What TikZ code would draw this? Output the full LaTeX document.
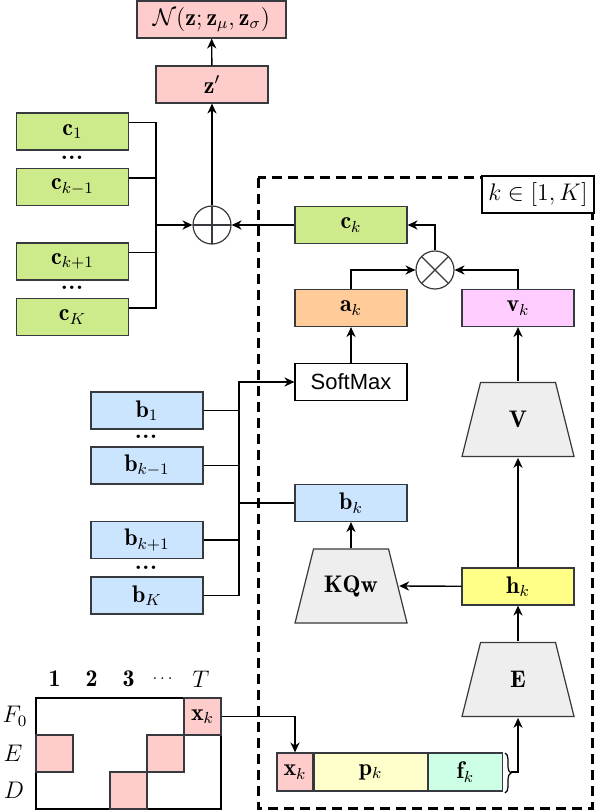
\documentclass[tikz,border=0pt]{standalone}
\usepackage{fontspec}
\newfontfamily\helvfont{Liberation Sans}
\usepackage{amsmath,amssymb}
\usetikzlibrary{arrows.meta,decorations.pathreplacing}
\definecolor{edgegray}{HTML}{36393D}
\definecolor{pinkbox}{HTML}{FFCCCC}
\definecolor{greenbox}{HTML}{CDEB8B}
\definecolor{bluebox}{HTML}{CCE5FF}
\definecolor{orangebox}{HTML}{FFCC99}
\definecolor{violetbox}{HTML}{FFCCFF}
\definecolor{yellowbox}{HTML}{FFFF88}
\definecolor{lightyellow}{HTML}{FFFFCC}
\definecolor{mintbox}{HTML}{CCFFE6}
\definecolor{trapgray}{HTML}{EEEEEE}

\begin{document}
\begin{tikzpicture}[x=0.5pt,y=-0.5pt,
  font=\fontsize{12}{14}\selectfont,
  >={Stealth[length=5pt,width=4.6pt]},
  conn/.style={line width=0.7pt},
  block/.style={draw=edgegray,line width=0.6pt,minimum width=56pt,minimum height=18.5pt,inner sep=0pt},
  trap/.style={minimum width=57pt,minimum height=38pt,inner sep=0pt,
    path picture={\filldraw[fill=trapgray,draw=edgegray,line width=0.6pt]
      ([shift={(0.5pt,0.5pt)}]path picture bounding box.south west) --
      ([shift={(-0.5pt,0.5pt)}]path picture bounding box.south east) --
      ([shift={(-9.75pt,-0.5pt)}]path picture bounding box.north east) --
      ([shift={(9.75pt,-0.5pt)}]path picture bounding box.north west) -- cycle;}},
  cell/.style={draw=edgegray,fill=pinkbox,line width=0.6pt,minimum size=18.5pt,inner sep=0pt},
  dotsep/.style={inner sep=0pt},
  opsum/.style={circle,draw=edgegray,line width=0.6pt,minimum size=19pt,inner sep=0pt,
    path picture={\draw[edgegray,line width=0.6pt] (path picture bounding box.north) -- (path picture bounding box.south)
      (path picture bounding box.west) -- (path picture bounding box.east);}},
  opprod/.style={circle,draw=edgegray,line width=0.6pt,minimum size=19pt,inner sep=0pt,
    path picture={\draw[edgegray,line width=0.6pt] (path picture bounding box.north west) -- (path picture bounding box.south east)
      (path picture bounding box.south west) -- (path picture bounding box.north east);}}]
  \useasboundingbox (0,0) rectangle (596,812);

  \draw[line width=1.5pt,dash pattern=on 5pt off 3pt] (258,178) rectangle (592,808);
  \node[block,fill=white,draw=black] (klabel) at (538,194.5) {$k \in [1, K]$};

  \node[block,fill=pinkbox,minimum width=74.5pt] (N) at (211.5,19.5) {$\mathcal{N}(\mathbf{z};\mathbf{z}_\mu,\mathbf{z}_\sigma)$};
  \node[block,fill=pinkbox] (zp) at (212,84.5) {$\mathbf{z}'$};
  \node[opsum] (plus) at (212,225) {};

  \node[block,fill=greenbox] (c1) at (72.5,131.5) {$\mathbf{c}_1$};
  \node[dotsep] (cdotsa) at (72,158) {\textbf{...}};
  \node[block,fill=greenbox] (ckm) at (72.5,187) {$\mathbf{c}_{k-1}$};
  \node[block,fill=greenbox] (ckp) at (72.5,261.5) {$\mathbf{c}_{k+1}$};
  \node[dotsep] (cdotsb) at (72,288) {\textbf{...}};
  \node[block,fill=greenbox] (cK) at (72.5,317) {$\mathbf{c}_K$};
  \coordinate (cbus) at (156,225);

  \node[block,fill=greenbox] (ck) at (351,225) {$\mathbf{c}_k$};
  \node[opprod] (times) at (435,270) {};
  \node[block,fill=orangebox] (ak) at (351,308) {$\mathbf{a}_k$};
  \node[block,fill=violetbox] (vk) at (518,308) {$\mathbf{v}_k$};
  \node[block,fill=white,draw=black,font=\helvfont\fontsize{11}{13}\selectfont] (softmax) at (351,382) {SoftMax};
  \node[trap] (V) at (518,419.5) {$\mathbf{V}$};
  \node[block,fill=bluebox] (bk) at (351,503) {$\mathbf{b}_k$};
  \node[trap] (KQw) at (351,586) {$\mathbf{KQw}$};
  \node[block,fill=yellowbox] (hk) at (518,586.5) {$\mathbf{h}_k$};
  \node[trap] (E) at (518,679.5) {$\mathbf{E}$};

  \node[block,fill=bluebox] (b1) at (147,410.5) {$\mathbf{b}_1$};
  \node[dotsep] (bdotsa) at (146,437) {\textbf{...}};
  \node[block,fill=bluebox] (bkm) at (147,465.5) {$\mathbf{b}_{k-1}$};
  \node[block,fill=bluebox] (bkp) at (147,540) {$\mathbf{b}_{k+1}$};
  \node[dotsep] (bdotsb) at (146,568) {\textbf{...}};
  \node[block,fill=bluebox] (bK) at (147,595.5) {$\mathbf{b}_K$};
  \coordinate (bbus) at (239,382);

  \node[block,fill=pinkbox,minimum width=18pt,minimum height=19pt] (xks) at (295,772) {$\mathbf{x}_k$};
  \node[block,fill=lightyellow,minimum width=56.5pt,minimum height=19pt,anchor=west] (pk) at (xks.east) {$\mathbf{p}_k$};
  \node[block,fill=mintbox,minimum width=37pt,minimum height=19pt,anchor=west] (fk) at (pk.east) {$\mathbf{f}_k$};
  \draw[line width=0.6pt,decorate,decoration={brace,amplitude=3pt}] (505,753) -- (505,793);
  \coordinate (brtip) at (511,772);

  \draw[line width=0.7pt] (36,698) rectangle (221,809);
  \node[cell] (xk) at (202.5,716.5) {$\mathbf{x}_k$};
  \node[cell] (e1) at (54.5,753.5) {};
  \node[cell] (e4) at (165.5,753.5) {};
  \node[cell] (d3) at (128.5,790.5) {};
  \node (t1) at (54.5,679) {$\mathbf{1}$};
  \node (t2) at (91.5,679) {$\mathbf{2}$};
  \node (t3) at (128.5,679) {$\mathbf{3}$};
  \node (tdots) at (164,679) {\footnotesize$\dots$};
  \node (tT) at (201,679) {$T$};
  \node (rF) at (15,716) {$F_0$};
  \node (rE) at (13,753) {$E$};
  \node (rD) at (14,790) {$D$};

  \draw[conn,->] (zp) -- (N);
  \draw[conn,->] (plus) -- (zp);
  \draw[conn] ([yshift=4.5pt]c1.east) -| (cbus);
  \draw[conn] ([yshift=4.5pt]ckm.east) -| (cbus);
  \draw[conn] ([yshift=4.5pt]ckp.east) -| (cbus);
  \draw[conn] ([yshift=4.5pt]cK.east) -| (cbus);
  \draw[conn,->] (cbus) -- (plus);
  \draw[conn,->] (ck) -- (plus);
  \draw[conn,->] (times.north) |- (ck.east);
  \draw[conn,->] (ak.north) |- (times.west);
  \draw[conn,->] (vk.north) |- (times.east);
  \draw[conn,->] (softmax) -- (ak);
  \draw[conn,->] (V.north) -- (vk);
  \draw[conn,->] (hk) -- (V.south);
  \draw[conn,->] (hk) -- ([xshift=-4.6pt]KQw.east);
  \draw[conn,->] (KQw.north) -- (bk);
  \draw[conn,->] (E.north) -- (hk);
  \draw[conn] (b1.east) -| (bbus);
  \draw[conn] (bkm.east) -| (bbus);
  \draw[conn] (bkp.east) -| (bbus);
  \draw[conn] (bK.east) -| (bbus);
  \draw[conn] (bbus |- bk.west) -- (bk.west);
  \draw[line width=1.2pt,->] (bbus |- bkm.east) -- (bbus) -- (softmax.west);
  \draw[conn,->] (xk.east) -| (xks.north);
  \draw[conn,->] (brtip) -| (E.south);
\end{tikzpicture}
\end{document}
